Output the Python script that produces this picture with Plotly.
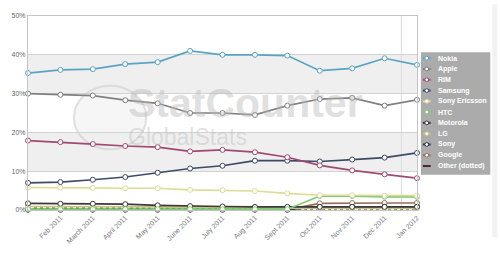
import plotly.graph_objects as go

months = ["Jan 2011", "Feb 2011", "March 2011", "April 2011", "May 2011", "June 2011",
          "July 2011", "Aug 2011", "Sept 2011", "Oct 2011", "Nov 2011", "Dec 2011", "Jan 2012"]
tick_labels = months[1:]
y_ticks = [0, 10, 20, 30, 40, 50]
y_tick_labels = ["0%", "10%", "20%", "30%", "40%", "50%"]

nokia = [35.3, 36.1, 36.3, 37.6, 38.1, 41.0, 40.0, 40.0, 39.8, 35.9, 36.5, 39.1, 37.4]
apple = [30.0, 29.7, 29.5, 28.3, 27.5, 25.0, 25.0, 24.5, 26.9, 28.6, 28.9, 26.9, 28.4]
rim = [17.9, 17.5, 17.0, 16.5, 16.2, 15.1, 15.5, 14.9, 13.6, 11.5, 10.2, 9.2, 8.2]
samsung = [7.0, 7.2, 7.8, 8.5, 9.6, 10.7, 11.4, 12.7, 12.7, 12.5, 13.0, 13.5, 14.7]
sony_ericsson = [5.8, 5.8, 5.7, 5.6, 5.6, 5.2, 5.1, 4.9, 4.3, 3.8, 3.8, 3.7, 3.7]
htc = [0.2, 0.2, 0.2, 0.2, 0.2, 0.2, 0.2, 0.2, 0.2, 3.6, 3.6, 3.4, 3.4]
motorola = [1.7, 1.6, 1.6, 1.5, 1.2, 1.0, 0.9, 0.8, 0.8, 0.8, 0.8, 0.8, 0.8]
lg = [0.9, 0.9, 0.9, 0.9, 0.8, 0.7, 0.6, 0.5, 0.5, 0.5, 0.5, 0.5, 0.5]
sony = [0.1, 0.1, 0.1, 0.1, 0.1, 0.1, 0.1, 0.1, 0.1, 0.8, 0.8, 0.8, 0.8]
google = [0.1, 0.1, 0.1, 0.1, 0.1, 0.1, 0.1, 0.1, 0.1, 1.7, 1.8, 1.8, 1.8]
other = [0.4, 0.4, 0.4, 0.4, 0.4, 0.4, 0.4, 0.4, 0.4, 0.4, 0.4, 0.4, 0.4]

series_names = ["Nokia", "Apple", "RIM", "Samsung", "Sony Ericsson", "HTC",
                "Motorola", "LG", "Sony", "Google", "Other (dotted)"]
series_values = [nokia, apple, rim, samsung, sony_ericsson, htc,
                 motorola, lg, sony, google, other]
series_colors = ["#5aa4c2", "#808080", "#a04a72", "#3c4a68", "#dcdc98", "#80c878",
                 "#3a3a3a", "#c4c47a", "#2c3552", "#9a6e58", "#4a2626"]

W, H = 500, 257
L, R, T, B = 19, 83, 13, 30
PW, PH = W - L - R, H - T - B


def px(x):
    return (x - L) / PW


def py(y):
    return (H - B - y) / PH


fig = go.Figure()

for name, vals, col in reversed(list(zip(series_names, series_values, series_colors))):
    is_other = name.startswith("Other")
    fig.add_trace(go.Scatter(
        x=months, y=vals, name=name, mode="lines" if is_other else "lines+markers",
        line=dict(color=col, width=2 if is_other else 1.7, dash="dot" if is_other else "solid"),
        marker=dict(symbol="circle", size=5, color="white", line=dict(color=col, width=1)),
        cliponaxis=False, showlegend=False,
    ))

shapes = []
for lo, hi in [(30, 40), (10, 20)]:
    shapes.append(dict(type="rect", xref="paper", yref="y", x0=0, x1=1, y0=lo, y1=hi,
                       fillcolor="#efefef", line=dict(width=0), layer="below"))
shapes.append(dict(type="circle", xref="paper", yref="paper",
                   x0=px(66), x1=px(140), y0=py(160), y1=py(90),
                   fillcolor="rgba(238,238,238,0.55)", line=dict(color="rgba(205,205,205,0.6)", width=2),
                   layer="below"))
shapes.append(dict(type="line", xref="x", yref="paper", x0=11.52, x1=11.52, y0=0, y1=1,
                   line=dict(color="#dddddd", width=1), layer="below"))
shapes.append(dict(type="rect", xref="paper", yref="paper", x0=px(494), x1=px(499), y0=py(257), y1=py(0),
                   fillcolor="#f2f2f2", line=dict(width=0), layer="below"))

shapes.append(dict(type="rect", xref="paper", yref="paper", x0=px(421), x1=px(492), y0=py(188), y1=py(53),
                   fillcolor="#ababab", line=dict(width=0)))
annotations = []
for i, (name, col) in enumerate(zip(series_names, series_colors)):
    yc = 59.5 + 11.9 * i
    is_other = name.startswith("Other")
    shapes.append(dict(type="line", xref="paper", yref="paper", x0=px(423), x1=px(431),
                       y0=py(yc), y1=py(yc), line=dict(color=col, width=2)))
    if not is_other:
        shapes.append(dict(type="circle", xref="paper", yref="paper", x0=px(425), x1=px(429),
                           y0=py(yc + 2), y1=py(yc - 2), fillcolor="white", line=dict(color=col, width=1)))
    annotations.append(dict(text="<b>%s</b>" % name, xref="paper", yref="paper", x=px(436), y=py(yc),
                            xanchor="left", yanchor="middle", showarrow=False,
                            font=dict(family="Liberation Sans, Arial", size=7, color="white")))

annotations.append(dict(text="<b>StatCounter</b>", xref="paper", yref="paper", x=px(242), y=py(109),
                        xanchor="center", yanchor="middle", showarrow=False,
                        font=dict(family="Liberation Sans, Arial", size=41, color="rgba(185,185,185,0.45)")))
annotations.append(dict(text="GlobalStats", xref="paper", yref="paper", x=px(182), y=py(147),
                        xanchor="center", yanchor="middle", showarrow=False,
                        font=dict(family="Liberation Sans, Arial", size=23, color="rgba(190,190,190,0.45)")))

fig.update_layout(
    width=W, height=H,
    margin=dict(l=L, r=R, t=T, b=B, pad=0),
    paper_bgcolor="white", plot_bgcolor="white",
    showlegend=False,
    shapes=shapes, annotations=annotations,
    font=dict(family="Liberation Sans, Arial", size=7, color="#666666"),
    xaxis=dict(type="category", range=[0, 12], tickvals=tick_labels, ticktext=tick_labels,
               tickangle=-45, tickfont=dict(size=7, color="#777777"), showgrid=False,
               showline=True, linecolor="#c4c4c4", mirror=True, ticks="", zeroline=False),
    yaxis=dict(range=[0, 50], tickvals=y_ticks, ticktext=y_tick_labels,
               tickfont=dict(size=7, color="#666666"), showgrid=True, gridcolor="#d2d2d2",
               showline=True, linecolor="#c4c4c4", mirror=True, zeroline=False, ticks=""),
)

fig.write_html("out.html")
